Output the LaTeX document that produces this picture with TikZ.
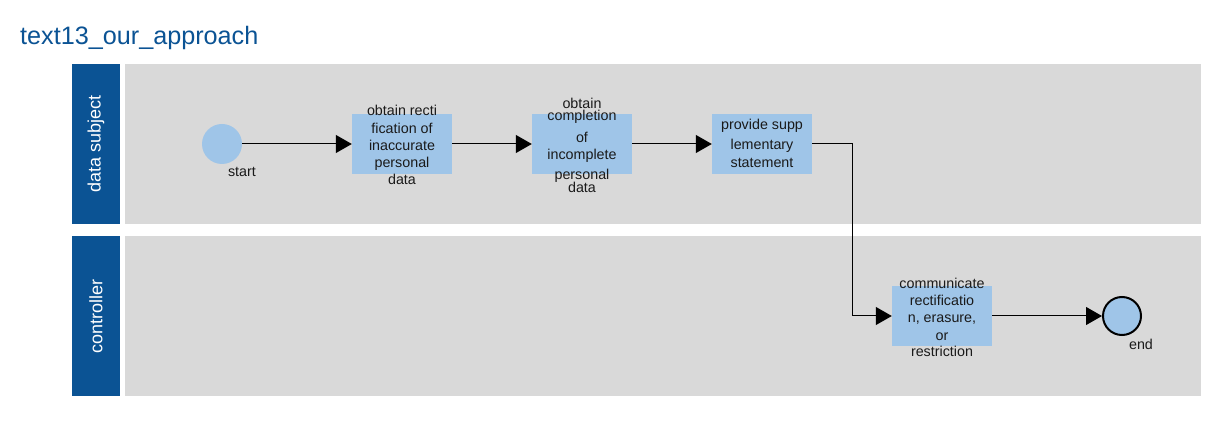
\documentclass[tikz,border=0pt]{standalone}
\usepackage{fontspec}
\setmainfont{Liberation Sans}
\usetikzlibrary{arrows.meta}
\definecolor{hdr}{HTML}{0B5394}
\definecolor{lanegray}{HTML}{D9D9D9}
\definecolor{taskblue}{HTML}{9FC5E8}
\definecolor{txt}{HTML}{1A1A1A}
\begin{document}
\begin{tikzpicture}[x=1pt,y=-1pt,
  lanebody/.style={fill=lanegray, draw=none, minimum width=1076pt, minimum height=160pt, inner sep=0pt},
  lanehdr/.style={fill=hdr, draw=none, minimum width=48pt, minimum height=160pt, inner sep=0pt},
  hdrtext/.style={text=white, rotate=90, font=\fontsize{18}{20}\selectfont},
  taskbox/.style={fill=taskblue, draw=none, minimum width=100pt, minimum height=60pt, inner sep=0pt},
  tasktext/.style={text=txt, align=center, inner sep=0pt, font=\fontsize{14.3}{17}\selectfont},
  evlabel/.style={text=txt, inner sep=0pt, font=\fontsize{14.3}{17}\selectfont},
  startev/.style={circle, fill=taskblue, draw=none, minimum size=40pt, inner sep=0pt},
  endev/.style={circle, fill=taskblue, draw=black, line width=2pt, minimum size=38pt, inner sep=0pt},
  flow/.style={draw=black, line width=1pt, -{Triangle[length=16pt,width=18pt]}}
]
\useasboundingbox (0,0) rectangle (1219,438);
\fill[white] (0,0) rectangle (1219,438);
% title
\node[anchor=base west, text=hdr, inner sep=0pt, font=\fontsize{25.2}{28}\selectfont] (title) at (20,45) {text13\_our\_approach};
% lanes
\node[lanehdr] (h1) at (96,144) {};
\node[lanebody] (l1) at (663,144) {};
\node[lanehdr] (h2) at (96,316.5) {};
\node[lanebody] (l2) at (663,316.5) {};
\node[hdrtext] (h1t) at (h1.center) {data subject};
\node[hdrtext] (h2t) at (h2.center) {controller};
% events
\node[startev] (start) at (222,144) {};
\node[evlabel] (startl) at (242,172) {start};
\node[endev] (end) at (1122,316) {};
\node[evlabel] (endl) at (1141,344) {end};
% tasks
\node[taskbox] (b1) at (402,144) {};
\node[tasktext] (b1t) at (402,145) {obtain recti\\[0.5pt]fication of\\inaccurate\\[0.5pt]personal\\data};
\node[taskbox] (b2) at (582,144) {};
\node[tasktext] (b2t) at (582,145) {obtain\\[-5pt]completion\\[5pt]of\\incomplete\\[3pt]personal\\[-4pt]data};
\node[taskbox] (b3) at (762,144) {};
\node[tasktext] (b3t) at (762,143) {provide supp\\[3pt]lementary\\[1pt]statement};
\node[taskbox] (b4) at (942,316) {};
\node[tasktext] (b4t) at (942,317) {communicate\\rectificatio\\n, erasure,\\[1pt]or\\[-1pt]restriction};
% flows
\draw[flow] (start) -- (b1);
\draw[flow] (b1) -- (b2);
\draw[flow] (b2) -- (b3);
\draw[flow] (b3.east) -- ++(40,0) |- (b4.west);
\draw[flow] (b4) -- (end);
\end{tikzpicture}
\end{document}
